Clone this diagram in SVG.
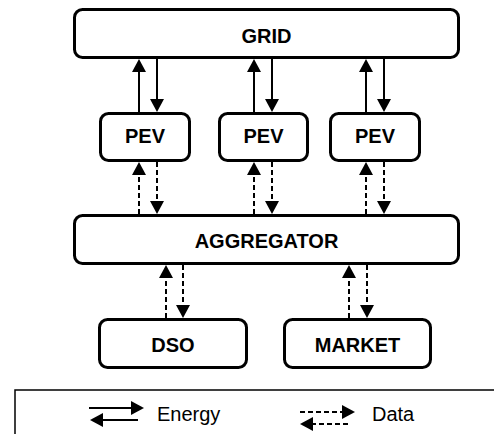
<svg xmlns="http://www.w3.org/2000/svg" width="494" height="434" viewBox="0 0 494 434">
<style>
.box{fill:#fff;stroke:#000;stroke-width:3}
.lbl{font-family:"Liberation Sans",Arial,sans-serif;font-weight:bold;font-size:20px;text-anchor:middle;fill:#000}
.leg{font-family:"Liberation Sans",Arial,sans-serif;font-size:20px;fill:#000}
.e{stroke:#000;stroke-width:2;fill:none}
.d{stroke:#000;stroke-width:2;fill:none;stroke-dasharray:5,3}
</style>
<defs>
<marker id="ah" markerUnits="userSpaceOnUse" viewBox="0 0 13 14" refX="0" refY="7" markerWidth="13" markerHeight="14" orient="auto">
<path d="M0,0 L13,7 L0,14 z" fill="#000"/>
</marker>
</defs>
<g id="grid"><rect class="box" x="74.5" y="9.5" width="384" height="48" rx="8"/><text class="lbl" x="266.5" y="43">GRID</text></g>
<g id="pev1"><rect class="box" x="100.5" y="113.5" width="89" height="47" rx="8"/><text class="lbl" x="145" y="143">PEV</text></g>
<g id="pev2"><rect class="box" x="219.5" y="113.5" width="88" height="47" rx="8"/><text class="lbl" x="263.5" y="143">PEV</text></g>
<g id="pev3"><rect class="box" x="330.5" y="113.5" width="89" height="47" rx="8"/><text class="lbl" x="375" y="143">PEV</text></g>
<g id="aggregator"><rect class="box" x="74.5" y="215.5" width="384" height="48" rx="8"/><text class="lbl" x="266.5" y="248">AGGREGATOR</text></g>
<g id="dso"><rect class="box" x="99.5" y="319.5" width="147" height="48" rx="8"/><text class="lbl" x="173" y="352">DSO</text></g>
<g id="market"><rect class="box" x="284.5" y="319.5" width="146" height="48" rx="8"/><text class="lbl" x="357.5" y="352">MARKET</text></g>
<g id="connectors">
<line class="e" x1="139" y1="112" x2="139" y2="72" marker-end="url(#ah)"/>
<line class="e" x1="157" y1="59" x2="157" y2="99" marker-end="url(#ah)"/>
<line class="e" x1="254" y1="112" x2="254" y2="72" marker-end="url(#ah)"/>
<line class="e" x1="272" y1="59" x2="272" y2="99" marker-end="url(#ah)"/>
<line class="e" x1="366" y1="112" x2="366" y2="72" marker-end="url(#ah)"/>
<line class="e" x1="384" y1="59" x2="384" y2="99" marker-end="url(#ah)"/>
<line class="d" x1="139" y1="214" x2="139" y2="175" marker-end="url(#ah)"/>
<line class="d" x1="157" y1="162" x2="157" y2="201" marker-end="url(#ah)"/>
<line class="d" x1="254" y1="214" x2="254" y2="175" marker-end="url(#ah)"/>
<line class="d" x1="272" y1="162" x2="272" y2="201" marker-end="url(#ah)"/>
<line class="d" x1="366" y1="214" x2="366" y2="175" marker-end="url(#ah)"/>
<line class="d" x1="384" y1="162" x2="384" y2="201" marker-end="url(#ah)"/>
<line class="d" x1="166" y1="318" x2="166" y2="278" marker-end="url(#ah)"/>
<line class="d" x1="183" y1="265" x2="183" y2="305" marker-end="url(#ah)"/>
<line class="d" x1="349" y1="318" x2="349" y2="278" marker-end="url(#ah)"/>
<line class="d" x1="367" y1="265" x2="367" y2="305" marker-end="url(#ah)"/>
</g>
<g id="legend">
<rect x="15" y="390" width="500" height="60" fill="none" stroke="#000" stroke-width="1.5"/>
<line class="e" x1="89" y1="408" x2="131" y2="408" marker-end="url(#ah)"/>
<line class="e" x1="138" y1="420" x2="103" y2="420" marker-end="url(#ah)"/>
<text class="leg" x="157" y="421">Energy</text>
<line class="d" x1="300" y1="412" x2="342" y2="412" marker-end="url(#ah)"/>
<line class="d" x1="348" y1="424" x2="313" y2="424" marker-end="url(#ah)"/>
<text class="leg" x="372" y="421">Data</text>
</g>
</svg>
